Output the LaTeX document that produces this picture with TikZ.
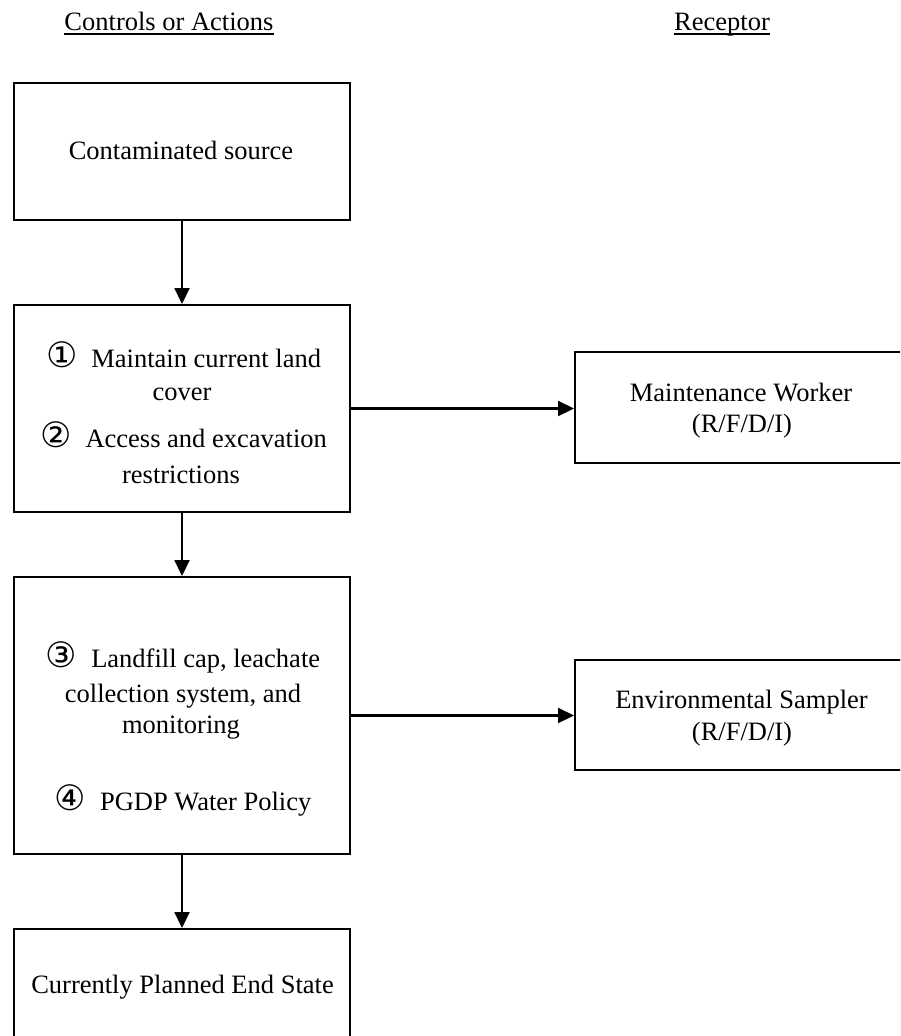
\documentclass[tikz,border=0pt]{standalone}
\usepackage{fontspec}
\setmainfont{Liberation Serif}
\newfontfamily\circfont{DejaVu Sans}
\usetikzlibrary{arrows.meta}

% circled item number, a little larger than the body text
\newcommand\itemnum[1]{{\circfont\fontsize{35}{32}\selectfont #1}}

\begin{document}
\begin{tikzpicture}[x=1pt,y=-1pt,
  stagebox/.style={draw, line width=2pt, anchor=north west, inner sep=0pt},
  flow/.style={line width=2.2pt, -{Triangle[length=16pt,width=15pt]}},
  txt/.style={font=\fontsize{26.5}{32}\selectfont, inner sep=0pt, anchor=base},
  rule/.style={line width=1.6pt}]
\useasboundingbox (0,0) rectangle (900,1036);
\clip (0,0) rectangle (900,1036);

% column headings, underlined
\node[txt] (hdrL) at (169,30) {Controls or Actions};
\node[txt] (hdrR) at (722,30) {Receptor};
\draw[rule] ([yshift=-4pt]hdrL.base west) -- ([yshift=-4pt]hdrL.base east);
\draw[rule] ([yshift=-4pt]hdrR.base west) -- ([yshift=-4pt]hdrR.base east);

% left column: sequence of controls
\node[stagebox, minimum width=336pt, minimum height=137pt] (src) at (13,82) {};
\node[stagebox, minimum width=336pt, minimum height=207pt] (ctl) at (13,304) {};
\node[stagebox, minimum width=336pt, minimum height=277pt] (cap) at (13,576) {};
\node[stagebox, minimum width=336pt, minimum height=150pt] (end) at (13,928) {};

% right column: receptors
\node[stagebox, minimum width=340pt, minimum height=111pt] (mw) at (574,351) {};
\node[stagebox, minimum width=340pt, minimum height=110pt] (es) at (574,659) {};

% box texts
\node[txt] (srcT) at (181,159) {Contaminated source};

\node[txt] (ctlA) at (183.5,367) {\itemnum{①}\hspace{14pt}Maintain current land};
\node[txt] (ctlB) at (182,400) {cover};
\node[txt] (ctlC) at (183.5,447) {\itemnum{②}\hspace{14pt}Access and excavation};
\node[txt] (ctlD) at (181,483) {restrictions};

\node[txt] (capA) at (183,667) {\itemnum{③}\hspace{14pt}Landfill cap, leachate};
\node[txt] (capB) at (183,702) {collection system, and};
\node[txt] (capC) at (181,733) {monitoring};
\node[txt] (capD) at (183,810) {\itemnum{④}\hspace{14pt}PGDP Water Policy};

\node[txt] (endT) at (182.5,993) {Currently Planned End State};

\node[txt] (mwA) at (741,401) {Maintenance Worker};
\node[txt] (mwB) at (742,432) {(R/F/D/I)};
\node[txt] (esA) at (741.5,708) {Environmental Sampler};
\node[txt] (esB) at (742,740) {(R/F/D/I)};

% connectors
\draw[flow] (src.south) -- (ctl.north);
\draw[flow] (ctl.south) -- (cap.north);
\draw[flow] (cap.south) -- (end.north);
\draw[flow] (ctl.east) -- (ctl.east -| mw.west);
\draw[flow] (cap.east) -- (cap.east -| es.west);
\end{tikzpicture}
\end{document}
